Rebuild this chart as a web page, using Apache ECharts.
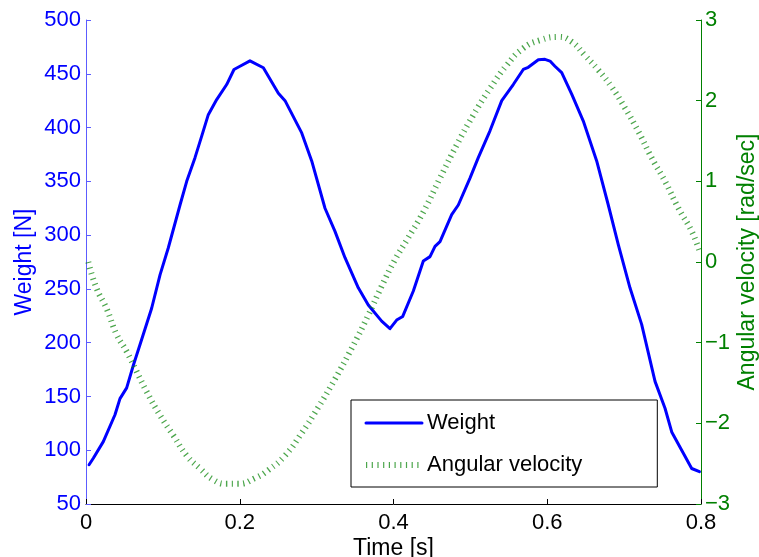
<!DOCTYPE html>
<html>
<head>
<meta charset="utf-8">
<script src="https://cdn.jsdelivr.net/npm/echarts@6/dist/echarts.min.js"></script>
<style>
  html, body { margin: 0; padding: 0; background: #fff; }
  #chart { width: 759px; height: 557px; }
</style>
</head>
<body>
<div id="chart"></div>
<script>
// Measured force on the left axis
const weightTime = [0.004, 0.0095, 0.0225, 0.0377, 0.0442, 0.0529, 0.0616, 0.0702, 0.0854, 0.0963,
  0.107, 0.1223, 0.131, 0.1418, 0.1505, 0.1591, 0.170, 0.183, 0.1925, 0.2003,
  0.2133, 0.2307, 0.2502, 0.2589, 0.2806, 0.2936, 0.3109, 0.3239, 0.3369, 0.3542,
  0.3672, 0.3846, 0.3954, 0.4041, 0.412, 0.4258, 0.4388, 0.4475, 0.454, 0.4605,
  0.4757, 0.4843, 0.4995, 0.5103, 0.5255, 0.5408, 0.5558, 0.5688, 0.5753, 0.5884,
  0.597, 0.6036, 0.61, 0.6188, 0.6318, 0.6469, 0.6643, 0.6794, 0.6925, 0.7076,
  0.7228, 0.7402, 0.7532, 0.7619, 0.7749, 0.7879, 0.798];
const weightValue = [86.5, 92.5, 108, 133, 148, 158, 179, 198, 232, 263,
  288, 328, 350, 372, 392, 412, 426, 440, 454, 457,
  462, 455.6, 432, 425, 395, 369, 325, 303.5, 279, 251,
  235, 220, 213, 221, 224.4, 248, 276, 280, 289.6, 294,
  319, 328, 353, 372, 397, 425, 440, 454, 456, 463,
  463.4, 461.8, 457, 451, 431, 406, 369, 328, 291, 251,
  217, 164, 139, 117, 100, 83, 80];

// Angular velocity on the right axis
const velocityTime = [0.003, 0.0139, 0.0269, 0.0399, 0.0529, 0.066, 0.079, 0.0963, 0.1136, 0.131,
  0.1483, 0.1656, 0.183, 0.1981, 0.2198, 0.2371, 0.2589, 0.2806, 0.3022, 0.3239,
  0.3456, 0.3672, 0.3846, 0.402, 0.4172, 0.4388, 0.4605, 0.4822, 0.5038, 0.5255,
  0.5473, 0.5688, 0.5906, 0.6144, 0.6318, 0.6491, 0.6664, 0.6838, 0.7011, 0.7184,
  0.7359, 0.7532, 0.7705, 0.7879, 0.7987];
const velocityValue = [0, -0.33, -0.58, -0.9, -1.11, -1.36, -1.61, -1.9, -2.15, -2.4,
  -2.56, -2.7, -2.75, -2.75, -2.68, -2.58, -2.4, -2.12, -1.8, -1.45,
  -1.07, -0.66, -0.3, 0.03, 0.27, 0.62, 1.04, 1.45, 1.82, 2.15,
  2.44, 2.65, 2.75, 2.79, 2.73, 2.56, 2.38, 2.17, 1.91, 1.62,
  1.29, 1.0, 0.67, 0.38, 0.12];

const seriesNames = ['Weight', 'Angular velocity'];
const axisTitles = { x: 'Time [s]', left: 'Weight [N]', right: 'Angular velocity [rad/sec]' };

const FONT = "'Liberation Sans', Arial, Helvetica, sans-serif";
const BLUE = '#0000ff';
const GREEN = '#008000';

const pairs = (xs, ys) => xs.map((x, i) => [x, ys[i]]);

const chart = echarts.init(document.getElementById('chart'), null, { renderer: 'canvas' });

chart.setOption({
  animation: false,
  backgroundColor: '#ffffff',
  textStyle: { fontFamily: FONT },
  grid: { left: 86, right: 58, top: 20, bottom: 53, containLabel: false, outerBoundsMode: 'none' },
  legend: {
    data: seriesNames,
    orient: 'vertical',
    left: 351,
    top: 400,
    padding: [10, 75, 9, 12],
    itemWidth: 56,
    itemHeight: 14,
    itemGap: 16,
    backgroundColor: '#ffffff',
    borderColor: '#000000',
    borderWidth: 1,
    borderRadius: 0,
    itemStyle: { opacity: 0 },
    lineStyle: { width: 'inherit' },
    textStyle: { fontFamily: FONT, fontSize: 22, lineHeight: 26, color: '#000000' }
  },
  xAxis: {
    type: 'value',
    min: 0,
    max: 0.8,
    interval: 0.2,
    name: axisTitles.x,
    nameLocation: 'middle',
    nameGap: 33,
    nameMoveOverlap: false,
    nameTextStyle: { fontFamily: FONT, fontSize: 23, color: '#000000' },
    axisLine: { onZero: false, lineStyle: { color: '#000000', width: 1 } },
    axisTick: { inside: true, length: 5, lineStyle: { color: '#000000' } },
    axisLabel: { fontFamily: FONT, fontSize: 22, color: '#000000', margin: 8,
      formatter: v => (v === 0 ? '0' : v.toFixed(1)) },
    splitLine: { show: false }
  },
  yAxis: [
    {
      type: 'value',
      position: 'left',
      min: 50,
      max: 500,
      interval: 50,
      name: axisTitles.left,
      nameLocation: 'middle',
      nameGap: 50,
      nameMoveOverlap: false,
      nameRotate: 90,
      nameTextStyle: { fontFamily: FONT, fontSize: 23, color: BLUE },
      axisLine: { show: true, onZero: false, lineStyle: { color: '#5c5cff', width: 1 } },
      axisTick: { inside: true, length: 5, lineStyle: { color: '#5c5cff' } },
      axisLabel: { fontFamily: FONT, fontSize: 22, color: BLUE, margin: 5 },
      splitLine: { show: false }
    },
    {
      type: 'value',
      position: 'right',
      min: -3,
      max: 3,
      interval: 1,
      name: axisTitles.right,
      nameLocation: 'middle',
      nameGap: 35,
      nameMoveOverlap: false,
      nameRotate: 90,
      nameTextStyle: { fontFamily: FONT, fontSize: 23, color: GREEN },
      axisLine: { show: true, onZero: false, lineStyle: { color: GREEN, width: 1 } },
      axisTick: { inside: true, length: 5, lineStyle: { color: GREEN } },
      axisLabel: { fontFamily: FONT, fontSize: 22, color: GREEN, margin: 4,
        formatter: v => (v < 0 ? '\u2212' + Math.abs(v) : String(v)) },
      splitLine: { show: false }
    }
  ],
  series: [
    {
      name: seriesNames[0],
      type: 'line',
      yAxisIndex: 0,
      data: pairs(weightTime, weightValue),
      symbol: 'none',
      smooth: false,
      lineStyle: { color: BLUE, width: 3, join: 'round', cap: 'round' },
      itemStyle: { color: BLUE },
      z: 2
    },
    {
      name: seriesNames[1],
      type: 'line',
      yAxisIndex: 1,
      data: pairs(velocityTime, velocityValue),
      symbol: 'none',
      smooth: true,
      lineStyle: { color: GREEN, width: 6, type: [1.2, 4.5], cap: 'butt', opacity: 0.7 },
      itemStyle: { color: GREEN },
      z: 3
    }
  ]
});
</script>
</body>
</html>
